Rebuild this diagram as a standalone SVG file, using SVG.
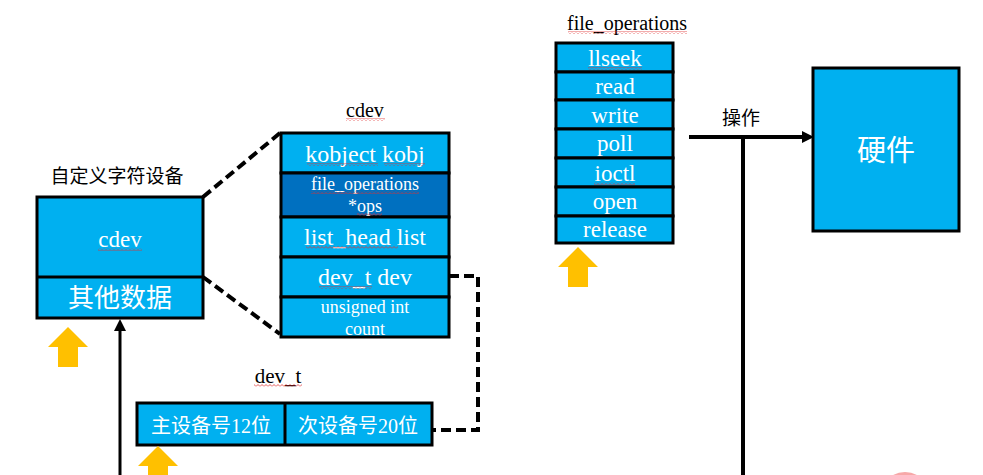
<svg xmlns="http://www.w3.org/2000/svg" xmlns:xlink="http://www.w3.org/1999/xlink" width="983" height="475" viewBox="0 0 983 475">
<style>
.box{fill:#00B0F0;stroke:#000;stroke-width:3}
.dark{fill:#0070C0;stroke:#000;stroke-width:3}
.div{stroke:#000;stroke-width:3}
.wt{fill:#fff;font-family:"Liberation Serif","Noto Sans CJK SC",serif;text-anchor:middle}
.bt{fill:#000;font-family:"Liberation Serif","Noto Sans CJK SC",serif;text-anchor:middle}
.cj{font-family:"Noto Sans CJK SC",sans-serif;text-anchor:middle}
.dash{fill:none;stroke:#000;stroke-width:4;stroke-dasharray:10 5}
.solid{fill:none;stroke:#000}
.wavy{fill:url(#wv)}
</style>
<defs>
<pattern id="wv" width="4" height="3" patternUnits="userSpaceOnUse">
<path d="M0,2.5 L2,0.5 L4,2.5" fill="none" stroke="#E03030" stroke-width="0.8"/>
</pattern>
<marker id="ah" viewBox="0 0 12 12" refX="0" refY="6" markerWidth="12" markerHeight="12" markerUnits="userSpaceOnUse" orient="auto">
<path d="M0,0 L12,6 L0,12 z" fill="#000"/>
</marker>
<path id="orange" d="M0,0 L20,20 L10,20 L10,40 L-10,40 L-10,20 L-20,20 z" fill="#FFC000"/>
</defs>

<g id="connectors">
<path class="dash" d="M203,197 L280,133"/>
<path class="dash" d="M203,277 L280,334"/>
<path class="dash" d="M449,276 L478,276 L478,430 L432,430"/>
<path class="solid" stroke-width="3" d="M120,475 L120,331" marker-end="url(#ah)"/>
<path class="solid" stroke-width="4" d="M689,137 L802,137" marker-end="url(#ah)"/>
<path class="solid" stroke-width="4" d="M743,137 L743,475"/>
<text class="cj" x="741" y="125" font-size="19" fill="#000">操作</text>
</g>

<g id="custom-char-device">
<text class="cj" x="117" y="183" font-size="19" fill="#000">自定义字符设备</text>
<rect class="box" x="37" y="197" width="166" height="121"/>
<line class="div" x1="37" y1="277" x2="203" y2="277"/>
<text class="wt" x="120" y="247" font-size="23">cdev</text>
<rect class="wavy" x="98" y="248" width="44" height="3"/>
<text class="cj" x="120" y="307" font-size="26" fill="#fff">其他数据</text>
</g>

<g id="cdev">
<text class="bt" x="365" y="117" font-size="20">cdev</text>
<rect class="wavy" x="346" y="118" width="39" height="3"/>
<rect class="box" x="281" y="133" width="168" height="40"/>
<rect class="dark" x="281" y="173" width="168" height="44"/>
<rect class="box" x="281" y="217" width="168" height="40"/>
<rect class="box" x="281" y="257" width="168" height="40"/>
<rect class="box" x="281" y="297" width="168" height="40"/>
<text class="wt" x="365" y="162" font-size="24">kobject kobj</text>
<rect class="wavy" x="307" y="163" width="71" height="3"/>
<rect class="wavy" x="384" y="163" width="41" height="3"/>
<text class="wt" x="365" y="190" font-size="18">file_operations</text>
<rect class="wavy" x="311" y="191" width="108" height="3"/>
<text class="wt" x="365" y="212" font-size="18">*ops</text>
<rect class="wavy" x="357" y="213" width="25" height="3"/>
<text class="wt" x="365" y="245" font-size="24">list_head list</text>
<rect class="wavy" x="306" y="246" width="92" height="3"/>
<text class="wt" x="365" y="285" font-size="24">dev_t dev</text>
<rect class="wavy" x="319" y="286" width="53" height="3"/>
<text class="wt" x="365" y="313" font-size="18">unsigned int</text>
<text class="wt" x="365" y="335" font-size="18">count</text>
</g>

<g id="dev_t">
<text class="bt" x="278" y="383" font-size="21">dev_t</text>
<rect class="wavy" x="254" y="384" width="48" height="3"/>
<rect class="box" x="137" y="403" width="295" height="42"/>
<line class="div" x1="285" y1="403" x2="285" y2="445"/>
<text class="wt" x="211" y="433" font-size="20">主设备号12位</text>
<text class="wt" x="358" y="433" font-size="20">次设备号20位</text>
</g>

<g id="file_operations">
<text class="bt" x="627" y="30" font-size="20">file_operations</text>
<rect class="wavy" x="568" y="31" width="119" height="3"/>
<rect class="box" x="556" y="43" width="117" height="29"/>
<rect class="box" x="556" y="72" width="117" height="28"/>
<rect class="box" x="556" y="100" width="117" height="29"/>
<rect class="box" x="556" y="129" width="117" height="29"/>
<rect class="box" x="556" y="158" width="117" height="29"/>
<rect class="box" x="556" y="187" width="117" height="29"/>
<rect class="box" x="556" y="216" width="117" height="27"/>
<text class="wt" x="615" y="66" font-size="23">llseek</text>
<rect class="wavy" x="588" y="67" width="54" height="3"/>
<text class="wt" x="615" y="94" font-size="23">read</text>
<text class="wt" x="615" y="123" font-size="23">write</text>
<text class="wt" x="615" y="151" font-size="23">poll</text>
<text class="wt" x="615" y="181" font-size="23">ioctl</text>
<rect class="wavy" x="594" y="182" width="41" height="3"/>
<text class="wt" x="615" y="209" font-size="23">open</text>
<text class="wt" x="615" y="237" font-size="23">release</text>
</g>

<g id="hardware">
<rect class="box" x="813" y="68" width="146" height="163"/>
<text class="cj" x="886" y="161" font-size="29" fill="#fff">硬件</text>
</g>

<g id="markers">
<use xlink:href="#orange" x="68" y="327"/>
<use xlink:href="#orange" x="158" y="446"/>
<use xlink:href="#orange" x="578" y="247"/>
</g>

<ellipse cx="905" cy="481" rx="16" ry="9" fill="#F7A8A8"/>
</svg>
